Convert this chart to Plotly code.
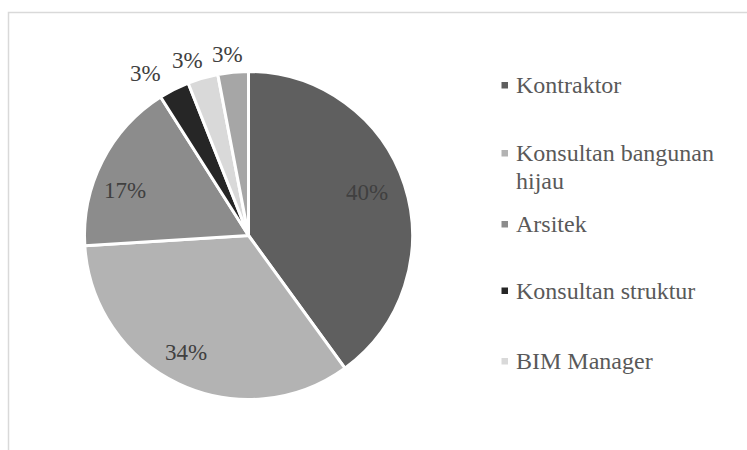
import math
import plotly.graph_objects as go

# Respondent roles (percent of respondents)
categories = ["Kontraktor", "Konsultan bangunan hijau", "Arsitek",
              "Konsultan struktur", "BIM Manager", "Lainnya"]
values = [40, 34, 17, 3, 3, 3]
slice_colors = ["#5f5f5f", "#b3b3b3", "#8c8c8c", "#262626", "#d9d9d9", "#a6a6a6"]

# Legend entries (the last slice is not listed)
legend_lines = [["Kontraktor"], ["Konsultan bangunan", "hijau"], ["Arsitek"],
                ["Konsultan struktur"], ["BIM Manager"]]

W, H = 747, 450
CX, CY, R = 248.5, 235.5, 164.0
FONT = "Times New Roman"


def px(x):
    return x / W


def py(y):
    return 1 - y / H


fig = go.Figure(go.Pie(
    labels=categories,
    values=values,
    sort=False,
    direction="clockwise",
    rotation=0,
    marker=dict(colors=slice_colors, line=dict(color="white", width=3)),
    textinfo="none",
    hoverinfo="label+percent",
    showlegend=False,
    domain=dict(x=[px(CX - R), px(CX + R)], y=[py(CY + R), py(CY - R)]),
))

annotations = []
shapes = []

# Percentage labels placed at each slice's mid angle
total = sum(values)
label_radius = [0.78, 0.80, 0.80, 1.11, 1.11, 1.11]
label_shift = [(-3, 3), (-7, 2), (-7, -15), (-20, 0), (-10, 0), (-4, 0)]
cum = 0.0
for v, k, (dx, dy) in zip(values, label_radius, label_shift):
    mid = (cum + v / 2) / total * 2 * math.pi
    cum += v
    x = CX + math.sin(mid) * R * k
    y = CY - math.cos(mid) * R * k
    annotations.append(dict(
        x=px(x), y=py(y), xref="paper", yref="paper",
        text=f"{round(v / total * 100)}%", showarrow=False,
        xanchor="center", yanchor="middle", xshift=dx, yshift=dy,
        font=dict(family=FONT, size=23, color="#404040"),
    ))

# Legend: small square key and label for each role
legend_rows = [85, 153, 224, 290.5, 361]
for lines, row, color in zip(legend_lines, legend_rows, slice_colors):
    shapes.append(dict(
        type="rect", xref="paper", yref="paper",
        x0=px(501.5), x1=px(508), y0=py(row + 3.5), y1=py(row - 3),
        fillcolor=color, line=dict(width=0),
    ))
    for i, line in enumerate(lines):
        annotations.append(dict(
            x=px(514), y=py(row + i * 27.5), xref="paper", yref="paper",
            text=line, showarrow=False, xanchor="left", yanchor="middle",
            font=dict(family=FONT, size=24, color="#595959"),
        ))

# Chart area frame
shapes.append(dict(
    type="rect", xref="paper", yref="paper",
    x0=px(8.5), x1=px(W + 20), y0=py(H + 20), y1=py(12.5),
    line=dict(color="#d9d9d9", width=1.5), fillcolor="rgba(0,0,0,0)",
    layer="below",
))

fig.update_layout(
    width=W, height=H,
    margin=dict(l=0, r=0, t=0, b=0),
    paper_bgcolor="white", plot_bgcolor="white",
    font=dict(family=FONT),
    annotations=annotations, shapes=shapes,
)

fig.write_html("out.html")
